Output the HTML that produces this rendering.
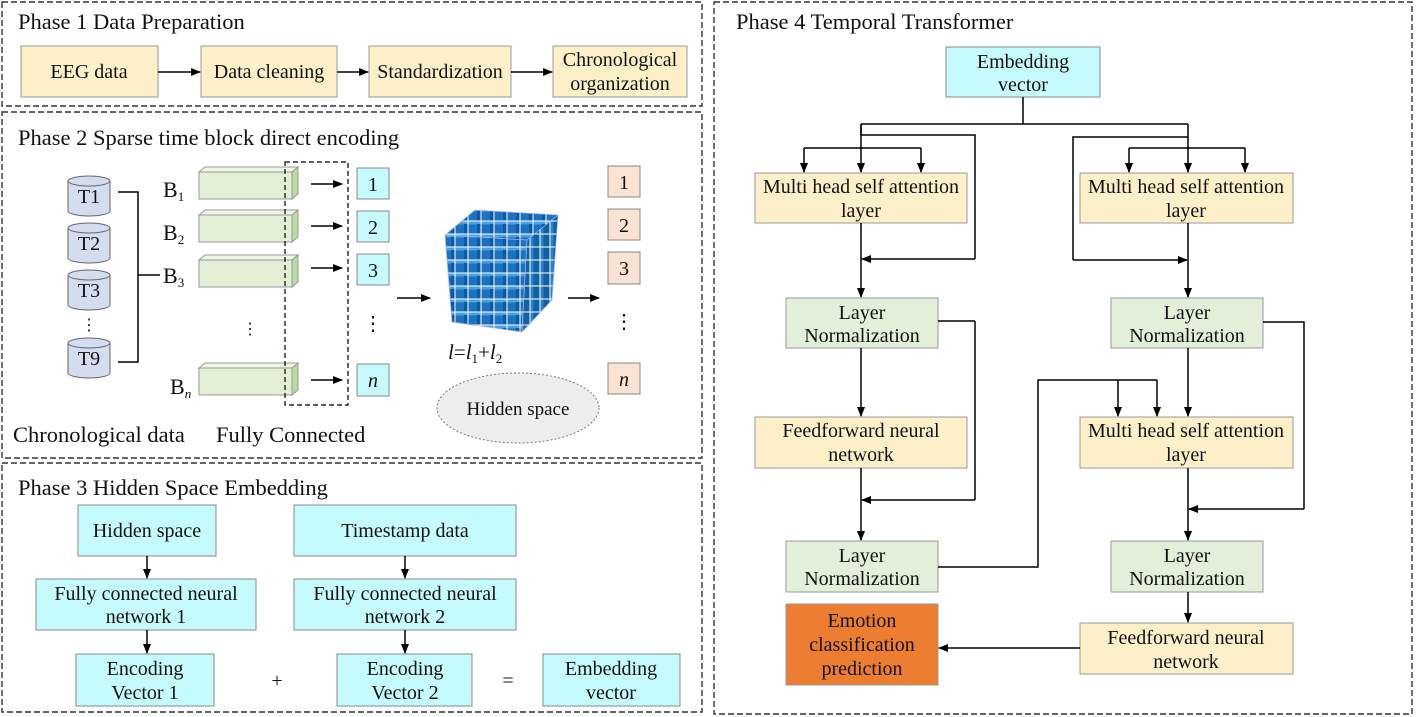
<!DOCTYPE html>
<html><head><meta charset="utf-8"><style>
html,body{margin:0;padding:0;background:#fff;}
svg{display:block;}
text{font-family:"Liberation Serif",serif;fill:#111;}
</style></head><body>
<svg width="1416" height="717" viewBox="0 0 1416 717" xmlns="http://www.w3.org/2000/svg">
<defs>
<marker id="a" markerWidth="10" markerHeight="10" refX="9" refY="5" orient="auto" markerUnits="userSpaceOnUse"><path d="M0,1 L10,5 L0,9 Z" fill="#000"/></marker>
<pattern id="tf" width="13" height="13" patternUnits="userSpaceOnUse"><rect x="0.5" y="0.5" width="12" height="12" fill="#1a72c0"/><rect x="0.5" y="0.5" width="12" height="3" fill="#4aa0e4"/><rect x="9" y="3" width="3.5" height="9.5" fill="#0f5a9e"/></pattern>
<pattern id="ts" width="10" height="13" patternUnits="userSpaceOnUse"><rect x="0.5" y="0.5" width="9" height="12" fill="#12609f"/><rect x="0.5" y="0.5" width="3" height="12" fill="#2a82cc"/></pattern>
</defs>
<g fill="none" stroke="#333" stroke-width="1.4" stroke-dasharray="6,3">
<rect x="2" y="2" width="700" height="104"/>
<rect x="2" y="112" width="700" height="346"/>
<rect x="2" y="463" width="700" height="249"/>
<rect x="714" y="2" width="698" height="712"/>
</g>
<g font-size="22.5">
<text x="18" y="29">Phase 1 Data Preparation</text>
<text x="18" y="145">Phase 2 Sparse time block direct encoding</text>
<text x="18" y="495">Phase 3 Hidden Space Embedding</text>
<text x="736" y="29">Phase 4 Temporal Transformer</text>
</g>
<!-- Phase 1 -->
<g fill="#fdf0c9" stroke="#999" stroke-width="1">
<rect x="21" y="46" width="137" height="51"/>
<rect x="201" y="46" width="136" height="51"/>
<rect x="369" y="46" width="142" height="51"/>
<rect x="553" y="46" width="134" height="51"/>
</g>
<g font-size="20" text-anchor="middle">
<text x="89" y="78">EEG data</text>
<text x="269" y="78">Data cleaning</text>
<text x="440" y="78">Standardization</text>
<text x="620" y="66">Chronological</text>
<text x="620" y="90">organization</text>
</g>
<g stroke="#000" stroke-width="1.5" marker-end="url(#a)">
<line x1="158" y1="72" x2="200" y2="72"/>
<line x1="337" y1="72" x2="368" y2="72"/>
<line x1="511" y1="72" x2="552" y2="72"/>
</g>
<!-- Phase 2 cylinders -->
<g fill="#d4dcf0" stroke="#666" stroke-width="1">
<path d="M68,181 V211 A21,5 0 0 0 110,211 V181"/><ellipse cx="89" cy="181" rx="21" ry="5"/>
<path d="M68,228 V258 A21,5 0 0 0 110,258 V228"/><ellipse cx="89" cy="228" rx="21" ry="5"/>
<path d="M68,275 V305 A21,5 0 0 0 110,305 V275"/><ellipse cx="89" cy="275" rx="21" ry="5"/>
<path d="M68,343 V373 A21,5 0 0 0 110,373 V343"/><ellipse cx="89" cy="343" rx="21" ry="5"/>
</g>
<g font-size="20" text-anchor="middle">
<text x="89" y="203">T1</text><text x="89" y="250">T2</text><text x="89" y="297">T3</text><text x="89" y="365">T9</text>
</g>
<text x="89" y="330" font-size="16" text-anchor="middle">⋮</text>
<path d="M118,192 H138 V362 H118 M138,275 H160" fill="none" stroke="#000" stroke-width="1.5"/>
<g font-size="22">
<text x="163" y="197">B<tspan font-size="13" dy="4">1</tspan></text>
<text x="163" y="240">B<tspan font-size="13" dy="4">2</tspan></text>
<text x="163" y="283">B<tspan font-size="13" dy="4">3</tspan></text>
<text x="170" y="394">B<tspan font-size="13" dy="4" font-style="italic">n</tspan></text>
</g>
<!-- green bars -->
<g stroke="#999" stroke-width="1">
<g id="bar"><rect x="199" y="172" width="93" height="27" fill="#e3f0d6"/><path d="M199,172 L205,167 H298 L292,172 Z" fill="#eef6e4"/><path d="M292,172 L298,167 V194 L292,199 Z" fill="#b9dca0"/></g>
<use href="#bar" y="43"/><use href="#bar" y="88"/><use href="#bar" y="196"/>
</g>
<text x="250" y="334" font-size="16" text-anchor="middle">⋮</text>
<rect x="285" y="162" width="63" height="243" fill="none" stroke="#000" stroke-width="1.2" stroke-dasharray="5,3"/>
<g stroke="#000" stroke-width="1.5" marker-end="url(#a)">
<line x1="311" y1="184" x2="342" y2="184"/>
<line x1="311" y1="226" x2="342" y2="226"/>
<line x1="311" y1="268" x2="342" y2="268"/>
<line x1="311" y1="380" x2="342" y2="380"/>
</g>
<g fill="#c6fbfd" stroke="#888" stroke-width="1">
<rect x="357" y="168" width="32" height="31"/><rect x="357" y="211" width="32" height="31"/><rect x="357" y="254" width="32" height="31"/><rect x="357" y="364" width="32" height="32"/>
</g>
<g font-size="20" text-anchor="middle">
<text x="373" y="191">1</text><text x="373" y="234">2</text><text x="373" y="277">3</text><text x="373" y="387" font-style="italic">n</text>
<text x="373" y="330">⋮</text>
</g>
<line x1="397" y1="298" x2="430" y2="298" stroke="#000" stroke-width="1.5" marker-end="url(#a)"/>
<!-- cube -->
<g>
<path d="M445,235 L475,210 L558,215 L527,240 Z" fill="url(#tf)"/>
<path d="M445,235 L527,240 L522,332 L452,322 Z" fill="url(#tf)"/>
<path d="M527,240 L558,215 L552,300 L522,332 Z" fill="url(#ts)"/>
<path d="M445,235 L475,210 L558,215 L552,300 L522,332 L452,322 Z M445,235 L527,240 L522,332 M527,240 L558,215" fill="none" stroke="#a8b4ee" stroke-width="0.8"/>
</g>
<text x="448" y="359" font-size="21" font-style="italic">l<tspan font-style="normal">=</tspan>l<tspan font-size="13" dy="4" font-style="normal">1</tspan><tspan dy="-4" font-style="normal">+</tspan>l<tspan font-size="13" dy="4" font-style="normal">2</tspan></text>
<ellipse cx="518" cy="408" rx="81" ry="35" fill="#ededed" stroke="#777" stroke-width="1" stroke-dasharray="2,2"/>
<text x="518" y="415" font-size="19" text-anchor="middle">Hidden space</text>
<line x1="568" y1="298" x2="599" y2="298" stroke="#000" stroke-width="1.5" marker-end="url(#a)"/>
<g fill="#fae3d3" stroke="#888" stroke-width="1">
<rect x="608" y="166" width="32" height="31"/><rect x="608" y="209" width="32" height="31"/><rect x="608" y="252" width="32" height="32"/><rect x="608" y="363" width="32" height="31"/>
</g>
<g font-size="20" text-anchor="middle">
<text x="624" y="189">1</text><text x="624" y="232">2</text><text x="624" y="275">3</text><text x="624" y="386" font-style="italic">n</text>
<text x="624" y="328">⋮</text>
</g>
<text x="13" y="442" font-size="22.5">Chronological data</text>
<text x="216" y="442" font-size="22.5">Fully Connected</text>
<!-- Phase 3 -->
<g fill="#c6fbfd" stroke="#888" stroke-width="1">
<rect x="78" y="505" width="138" height="51"/>
<rect x="294" y="505" width="222" height="51"/>
<rect x="36" y="579" width="220" height="51"/>
<rect x="294" y="579" width="222" height="51"/>
<rect x="76" y="654" width="138" height="52"/>
<rect x="337" y="654" width="135" height="52"/>
<rect x="543" y="654" width="137" height="52"/>
</g>
<g font-size="20" text-anchor="middle">
<text x="147" y="537">Hidden space</text>
<text x="405" y="537">Timestamp data</text>
<text x="146" y="600">Fully connected neural</text><text x="146" y="623">network 1</text>
<text x="405" y="600">Fully connected neural</text><text x="405" y="623">network 2</text>
<text x="145" y="675">Encoding</text><text x="145" y="699">Vector 1</text>
<text x="405" y="675">Encoding</text><text x="405" y="699">Vector 2</text>
<text x="611" y="675">Embedding</text><text x="611" y="699">vector</text>
<text x="277" y="687">+</text><text x="508" y="687">=</text>
</g>
<g stroke="#000" stroke-width="1.5" marker-end="url(#a)">
<line x1="147" y1="556" x2="147" y2="578"/>
<line x1="405" y1="556" x2="405" y2="578"/>
<line x1="147" y1="630" x2="147" y2="653"/>
<line x1="405" y1="630" x2="405" y2="653"/>
</g>
<!-- Phase 4 -->
<rect x="946" y="47" width="154" height="50" fill="#c6fbfd" stroke="#888"/>
<g fill="#fdf0c9" stroke="#999">
<rect x="755" y="173" width="212" height="50"/>
<rect x="1080" y="173" width="213" height="50"/>
<rect x="755" y="417" width="212" height="51"/>
<rect x="1080" y="417" width="213" height="51"/>
<rect x="1080" y="623" width="213" height="51"/>
</g>
<g fill="#e3f0d9" stroke="#999">
<rect x="786" y="298" width="152" height="50"/>
<rect x="1111" y="298" width="152" height="50"/>
<rect x="786" y="541" width="152" height="51"/>
<rect x="1111" y="541" width="152" height="51"/>
</g>
<rect x="786" y="604" width="152" height="81" fill="#ed7d31" stroke="#999"/>
<g font-size="20" text-anchor="middle">
<text x="1023" y="68">Embedding</text><text x="1023" y="91">vector</text>
<text x="861" y="193">Multi head self attention</text><text x="861" y="217">layer</text>
<text x="1186" y="193">Multi head self attention</text><text x="1186" y="217">layer</text>
<text x="862" y="319">Layer</text><text x="862" y="342">Normalization</text>
<text x="1187" y="319">Layer</text><text x="1187" y="342">Normalization</text>
<text x="861" y="437">Feedforward neural</text><text x="861" y="461">network</text>
<text x="1186" y="437">Multi head self attention</text><text x="1186" y="461">layer</text>
<text x="862" y="562">Layer</text><text x="862" y="585">Normalization</text>
<text x="1187" y="562">Layer</text><text x="1187" y="585">Normalization</text>
<text x="862" y="627">Emotion</text><text x="862" y="651">classification</text><text x="862" y="675">prediction</text>
<text x="1186" y="644">Feedforward neural</text><text x="1186" y="668">network</text>
</g>
<g fill="none" stroke="#000" stroke-width="1.5">
<path d="M1023,97 V124 M861,124 H1188"/>
<path d="M861,124 V135 H975 V259"/>
<path d="M1188,124 V137 H1073 V260"/>
<path d="M804,148 H921 M1129,148 H1245"/>
<path d="M975,321 H938 M975,321 V500"/>
<path d="M1263,322 H1304 V509"/>
<path d="M938,567 H1038 V380 H1157"/>
</g>
<g stroke="#000" stroke-width="1.5" marker-end="url(#a)" fill="none">
<line x1="804" y1="148" x2="804" y2="172"/>
<line x1="861" y1="124" x2="861" y2="172"/>
<line x1="921" y1="148" x2="921" y2="172"/>
<line x1="1129" y1="148" x2="1129" y2="172"/>
<line x1="1188" y1="137" x2="1188" y2="172"/>
<line x1="1245" y1="148" x2="1245" y2="172"/>
<line x1="975" y1="259" x2="862" y2="259"/>
<line x1="1073" y1="260" x2="1187" y2="260"/>
<line x1="861" y1="223" x2="861" y2="297"/>
<line x1="1188" y1="223" x2="1188" y2="297"/>
<line x1="861" y1="348" x2="861" y2="416"/>
<line x1="1188" y1="348" x2="1188" y2="416"/>
<line x1="1118" y1="380" x2="1118" y2="416"/>
<line x1="1157" y1="380" x2="1157" y2="416"/>
<line x1="975" y1="500" x2="862" y2="500"/>
<line x1="1304" y1="509" x2="1189" y2="509"/>
<line x1="861" y1="468" x2="861" y2="540"/>
<line x1="1188" y1="468" x2="1188" y2="540"/>
<line x1="1188" y1="592" x2="1188" y2="622"/>
<line x1="1080" y1="648" x2="939" y2="648"/>
</g>
</svg>
</body></html>
